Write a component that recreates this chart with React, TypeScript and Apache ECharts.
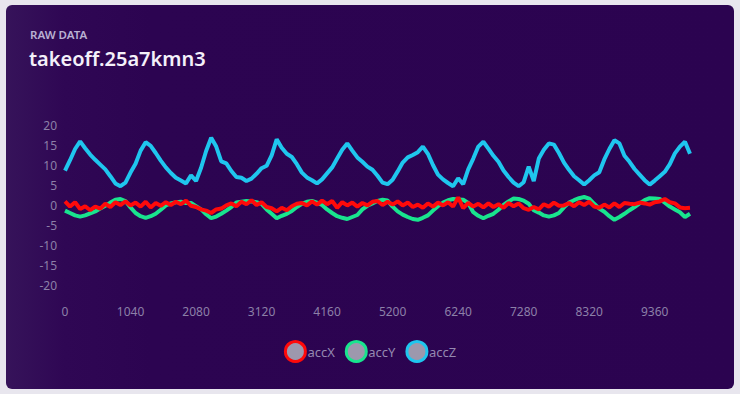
import React, { useEffect, useRef } from "react";
import * as echarts from "echarts";

const titleSmall = "RAW DATA";
const titleMain = "takeoff.25a7kmn3";
const seriesNames = ["accX", "accY", "accZ"];
const seriesColors = ["#ff0a0a", "#19e48e", "#1fc6ee"];
const stepMs = 80;
const yTicks = { min: -20, max: 20, interval: 5 };

const accX = [
  0.9, -0.4, 0.7, -1.0, -0.3, -1.3, -0.4, -0.9, 0.3, -0.5, 0.7, 0.0, 0.9, -0.1, 0.6, -0.4, 0.8, -0.6, 0.5, -0.2,
  0.7, 0.0, 0.8, 0.2, 1.1, -0.2, -0.5, -1.1, -1.4, -2.0, -1.1, -0.9, -0.1, 0.4, -0.3, 0.8, 0.2, 1.2, 0.0, 0.7,
  -0.5, -0.8, -1.6, -0.7, -1.3, -0.3, 0.3, 0.5, -0.1, 0.9, 0.1, 1.1, 0.2, 1.0, -0.7, 0.7, -0.1, 0.6, -0.4, 0.5,
  -0.1, 0.8, 1.0, 0.0, 0.8, 0.1, 0.9, -0.1, 0.6, -0.5, 0.1, -0.7, 0.4, -0.4, 0.6, -0.1, 0.7, -0.4, 1.9, -0.8,
  0.5, -0.4, 0.3, -0.6, 0.4, -0.5, 0.2, -0.7, 0.5, -0.3, 0.4, -0.8, -1.2, -0.5, -1.1, 0.2, -0.4, 0.6, -0.2, -0.1,
  0.5, -0.3, 0.7, 0.0, 0.8, -0.4, -0.7, 0.1, -0.6, 0.4, -0.5, 0.5, 0.3, 0.2, 0.6, 0.4, 0.1, 0.7, 0.9, 1.5,
  0.7, 0.4, -0.6, -0.8, -0.7,
];

const accY = [
  -1.4, -2.0, -2.6, -2.9, -2.6, -2.1, -1.6, -0.9, -0.2, 0.6, 1.3, 1.5, 1.0, -0.6, -2.0, -2.8, -3.2, -2.8, -2.2, -1.2,
  -0.1, 0.4, 0.7, 0.8, 0.5, 0.5, -0.3, -1.1, -2.3, -3.3, -2.9, -2.2, -1.4, -0.5, 0.6, 0.8, 1.0, 0.9, 0.7, 0.3,
  -1.1, -2.2, -3.3, -2.7, -2.2, -1.5, -0.5, 0.3, 0.8, 1.0, 0.6, 0.0, -1.1, -2.0, -2.8, -3.2, -3.5, -3.0, -2.5, -1.1,
  -0.2, 0.4, 1.0, 1.3, 1.1, -0.4, -1.6, -2.4, -3.0, -3.5, -3.7, -3.2, -2.6, -1.4, -0.3, 0.6, 1.2, 1.5, 1.4, 1.3,
  0.5, -1.8, -2.7, -3.3, -2.7, -2.2, -1.2, 0.0, 0.9, 1.6, 1.5, 1.1, 0.3, -1.3, -1.9, -2.6, -2.9, -2.6, -2.0, -0.6,
  0.6, 1.2, 1.7, 2.0, 1.6, 0.3, -0.9, -1.7, -2.8, -3.7, -3.0, -2.2, -1.3, -0.5, 0.4, 1.2, 1.7, 1.6, 1.5, 0.6,
  -0.4, -1.1, -1.8, -3.0, -2.2,
];

const accZ = [
  8.6, 11.2, 14.0, 15.9, 14.2, 12.6, 11.3, 10.1, 8.9, 7.2, 5.4, 4.7, 5.6, 8.1, 10.3, 13.6, 15.7, 14.8, 13.0, 11.1,
  9.4, 8.0, 6.8, 6.1, 5.4, 7.4, 6.0, 9.3, 13.5, 16.8, 14.6, 10.9, 10.4, 8.5, 7.0, 6.8, 6.0, 6.6, 7.8, 9.2,
  9.8, 12.4, 16.4, 14.3, 12.8, 12.0, 10.2, 8.1, 6.9, 6.2, 5.4, 6.4, 7.9, 9.4, 11.6, 13.8, 15.4, 13.6, 11.9, 10.8,
  9.6, 8.8, 7.3, 5.6, 5.2, 6.3, 8.4, 10.6, 11.9, 12.5, 13.2, 14.6, 12.8, 10.0, 7.6, 6.4, 5.5, 4.7, 6.7, 5.2,
  8.9, 11.6, 14.6, 15.8, 14.1, 12.3, 10.8, 8.6, 7.0, 5.6, 4.7, 5.7, 9.6, 6.0, 11.6, 13.8, 15.4, 15.1, 13.0, 10.6,
  8.8, 7.2, 6.2, 5.1, 6.2, 7.4, 8.2, 11.4, 14.0, 16.2, 15.4, 12.3, 10.8, 9.0, 7.6, 6.2, 5.1, 6.1, 7.2, 8.3,
  10.2, 12.9, 14.6, 15.8, 12.8,
];

const seriesData = [accX, accY, accZ];
const timeCategories = accZ.map((_, i) => String(i * stepMs));

export default function App() {
  const ref = useRef<HTMLDivElement>(null);

  useEffect(() => {
    if (!ref.current) return;
    const chart = echarts.init(ref.current, undefined, { renderer: "svg" });
    const font = "'Noto Sans', 'Open Sans', sans-serif";
    chart.setOption({
      animation: false,
      backgroundColor: "transparent",
      title: [
        {
          text: titleSmall,
          left: 30,
          top: 28,
          padding: 0,
          textStyle: { color: "#b9b0d2", fontSize: 11.5, fontWeight: 600, fontFamily: font },
        },
        {
          text: titleMain,
          left: 29,
          top: 48,
          padding: 0,
          textStyle: { color: "#f4f0fa", fontSize: 20, fontWeight: 600, fontFamily: font },
        },
      ],
      legend: {
        left: "center",
        top: 335,
        icon: "circle",
        itemWidth: 20,
        itemHeight: 20,
        itemGap: 10,
        textStyle: { color: "#9488b0", fontSize: 13, fontFamily: font, padding: [0, 0, 0, -3] },
        data: seriesNames.map((n, k) => ({
          name: n,
          itemStyle: { color: "#9d98ad", borderColor: seriesColors[k], borderWidth: 3 },
        })),
      },
      grid: { left: 65, right: 50, top: 125, bottom: 109, containLabel: false },
      xAxis: {
        type: "category",
        data: timeCategories,
        boundaryGap: false,
        axisLine: { show: false },
        axisTick: { show: false },
        splitLine: { show: false },
        axisLabel: { interval: 12, color: "#8c80a8", fontSize: 12, fontFamily: font, margin: 20 },
      },
      yAxis: {
        type: "value",
        min: yTicks.min,
        max: yTicks.max,
        interval: yTicks.interval,
        axisLine: { show: false },
        axisTick: { show: false },
        splitLine: { show: false },
        axisLabel: { color: "#8c80a8", fontSize: 12, fontFamily: font, margin: 8 },
      },
      series: seriesNames.map((n, k) => ({
        name: n,
        type: "line",
        data: seriesData[k],
        symbol: "none",
        smooth: false,
        z: k === 0 ? 4 : k === 1 ? 3 : 5,
        lineStyle: { color: seriesColors[k], width: 4 },
        itemStyle: { color: "#9d98ad", borderColor: seriesColors[k], borderWidth: 3 },
      })),
    });
    return () => chart.dispose();
  }, []);

  return (
    <div
      style={{
        position: "fixed",
        left: 0,
        top: 0,
        width: 740,
        height: 394,
        background: "#e8e6ee",
        overflow: "hidden",
      }}
    >
      <div
        style={{
          position: "absolute",
          left: 6,
          top: 5,
          width: 728,
          height: 384,
          borderRadius: 6,
          background: "linear-gradient(90deg, #36135a 0%, #2f0754 8%, #2c0451 20%, #2b0350 100%)",
        }}
      />
      <div ref={ref} style={{ position: "absolute", left: 0, top: 0, width: 740, height: 394 }} />
    </div>
  );
}
